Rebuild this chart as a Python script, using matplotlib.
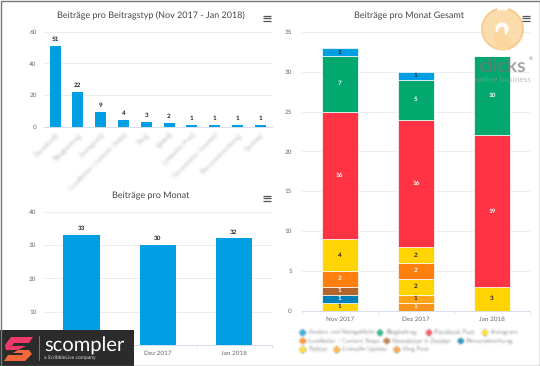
import numpy as np
from matplotlib import pyplot as plt
from matplotlib.patches import Circle, Polygon, Rectangle, Wedge

W, H = 540, 366

# Data
type_labels = ["Facebook", "Blogbeitrag", "Instagram", "Leadletter Content Steps", "Xing",
               "Video", "LinkedIn Post", "Newsletter Zweiter", "Personalwerbung", "Twitter"]
type_values = [51, 22, 9, 4, 3, 2, 1, 1, 1, 1]

months = ["Nov 2017", "Dez 2017", "Jan 2018"]
month_totals = [33, 30, 32]

series_names = ["Andere und Netzgeklickt", "Blogbeitrag", "Facebook Post", "Instagram",
                "Leadletter / Content Steps", "Newsletter in Zweiter", "Personalwerbung",
                "Twitter", "LinkedIn Update", "Xing Post"]
series_values = [
    [1, 1, 0],
    [7, 5, 10],
    [16, 16, 19],
    [4, 2, 3],
    [2, 2, 0],
    [1, 0, 0],
    [1, 0, 0],
    [1, 2, 0],
    [0, 1, 0],
    [0, 1, 0],
]
series_colors = ["#009fe3", "#03a86f", "#ff3344", "#ffd400", "#ff7f0e",
                 "#b5652c", "#0080b8", "#ffd400", "#ffa514", "#f9931a"]
label_colors = ["#222222", "white", "white", "#222222", "white",
                "white", "white", "#222222", "#222222", "white"]

plt.rcParams["font.family"] = ["Lato", "DejaVu Sans"]
plt.rcParams["text.hinting"] = "no_hinting"
BLUE = "#009fe3"
GRID = "#eeeeee"
AXIS = "#d5dceb"
TICK = "#666666"


def blur(sigma):
    # gaussian blur for the labels that are unreadable in the original
    r = int(3 * sigma) + 1
    k = np.exp(-np.arange(-r, r + 1) ** 2 / (2 * sigma ** 2))
    k = k / k.sum()

    def apply(img, dpi):
        out = np.pad(img, ((r, r), (r, r), (0, 0)))
        for ch in range(4):
            out[:, :, ch] = np.apply_along_axis(np.convolve, 0, out[:, :, ch], k, mode="same")
            out[:, :, ch] = np.apply_along_axis(np.convolve, 1, out[:, :, ch], k, mode="same")
        return out, -r, -r
    return apply


def make_axes(left, top, right, bottom):
    ax = fig.add_axes([left / W, 1 - bottom / H, (right - left) / W, (bottom - top) / H])
    ax.set_axisbelow(True)
    ax.grid(axis="y", color=GRID, linewidth=0.7)
    for s in ["top", "left", "right"]:
        ax.spines[s].set_visible(False)
    ax.spines["bottom"].set_color(AXIS)
    ax.spines["bottom"].set_linewidth(0.7)
    ax.tick_params(axis="y", length=0, labelsize=4.6, labelcolor=TICK, pad=5)
    ax.tick_params(axis="x", which="major", length=0, labelsize=4.6, labelcolor=TICK, pad=4)
    return ax


fig = plt.figure(figsize=(W / 100, H / 100), dpi=100, facecolor="white")

# Bars per type
ax1 = make_axes(43.7, 31.7, 271.7, 126.5)
x1 = np.arange(len(type_values))
ax1.bar(x1, type_values, width=0.485, color=BLUE)
ax1.set_xlim(-0.5, len(type_values) - 0.5)
ax1.set_ylim(0, 60)
ax1.set_yticks([0, 20, 40, 60])
ax1.set_xticks(x1)
ax1.set_xticklabels(type_labels, rotation=45, ha="right", va="top", rotation_mode="anchor",
                    color="#a0a0a0", fontsize=5)
for t in ax1.get_xticklabels():
    t.set_agg_filter(blur(1.5))
for i, v in zip(x1, type_values):
    ax1.text(i, v + 2.6, str(v), ha="center", va="bottom", fontsize=4.6, fontweight="bold", color="#222222")

# Bars per month
ax3 = make_axes(43.5, 211.7, 272, 345)
x3 = np.arange(len(months))
ax3.bar(x3, month_totals, width=0.475, color=BLUE)
ax3.set_xlim(-0.5, 2.5)
ax3.set_ylim(0, 40)
ax3.set_yticks([0, 10, 20, 30, 40])
ax3.set_xticks(x3)
ax3.set_xticklabels(months)
ax3.set_xticks([-0.5, 0.5, 1.5, 2.5], minor=True)
ax3.tick_params(axis="x", which="minor", length=2.5, color=AXIS, width=0.6)
# these two sit behind the scompler logo in the original
ax3.get_xticklabels()[0].set_visible(False)
ax3.get_yticklabels()[0].set_visible(False)
for i, v in zip(x3, month_totals):
    ax3.text(i, v + 1.1, str(v), ha="center", va="bottom", fontsize=4.6, fontweight="bold", color="#222222")

# Stacked bars, first series on top
ax2 = make_axes(301.7, 32, 530, 310.5)
x2 = np.arange(len(months))
bottom = np.zeros(len(months))
for vals, col, lab_col in list(zip(series_values, series_colors, label_colors))[::-1]:
    vals = np.array(vals)
    ax2.bar(x2, vals, width=0.475, bottom=bottom, color=col, edgecolor="white", linewidth=0.5)
    for i, v in enumerate(vals):
        if v > 0:
            ax2.text(i, bottom[i] + v / 2, str(v), ha="center", va="center",
                     fontsize=4.6, fontweight="bold", color=lab_col)
    bottom = bottom + vals
ax2.set_xlim(-0.5, 2.5)
ax2.set_ylim(0, 35)
ax2.set_yticks(np.arange(0, 36, 5))
ax2.tick_params(axis="y", pad=7)
ax2.set_xticks(x2)
ax2.set_xticklabels(months)
ax2.set_xticks([-0.5, 0.5, 1.5, 2.5], minor=True)
ax2.tick_params(axis="x", which="minor", length=2.5, color=AXIS, width=0.6)

# Overlay in pixel coordinates for titles, menu icons, legend and logos
ov = fig.add_axes([0, 0, 1, 1], zorder=10)
ov.set_xlim(0, W)
ov.set_ylim(H, 0)
ov.axis("off")
ov.patch.set_alpha(0)

titles = [("Beiträge pro Beitragstyp (Nov 2017 - Jan 2018)", 151, 16),
          ("Beiträge pro Monat Gesamt", 409, 16),
          ("Beiträge pro Monat", 151, 196)]
for s, tx, ty in titles:
    ov.text(tx, ty, s, ha="center", va="center", fontsize=6.5, color="#444444")

for mx, my in [(263, 16), (522, 16), (263, 196)]:
    for dy in [0, 2.3, 4.6]:
        ov.plot([mx, mx + 7.5], [my + dy, my + dy], color="#555555", lw=0.9, solid_capstyle="butt")

# Legend, blurred as in the original
legend_pos = [(302.7, 332.7), (380, 332.7), (429, 332.7), (485, 332.7),
              (302.7, 341), (386.7, 341), (460.7, 341),
              (302.7, 349.7), (336.7, 349.7), (396.7, 349.7)]
for (lx, ly), name, col in zip(legend_pos, series_names, series_colors):
    dot = Circle((lx, ly), 3.2, color=col, alpha=0.8, lw=0)
    dot.set_agg_filter(blur(0.9))
    ov.add_patch(dot)
    t = ov.text(lx + 6, ly, name, ha="left", va="center", fontsize=4.3, color="#777777")
    t.set_agg_filter(blur(1.1))

# clicks logo
ov.add_patch(Wedge((502.5, 29), 21.5, -75, 255, width=2.6, color="#f8c883", alpha=0.9, lw=0))
ov.add_patch(Circle((502.5, 29), 18.9, color="#fbd79f", alpha=0.85, lw=0))
ov.add_patch(Circle((502, 29), 6.5, color="white", alpha=0.95, lw=0))
ov.add_patch(Polygon([[500, 27], [504, 27], [505, 35], [511, 38], [510, 50], [498, 50], [494, 38]],
                     closed=True, color="#fbd79f", lw=0))
ov.text(502, 66, "clicks", ha="center", va="center", fontsize=14, fontweight="bold", color="#777777", alpha=0.65)
ov.text(531, 59, "®", ha="center", va="center", fontsize=3.5, color="#8c8c8c")
ov.text(503, 80, "online business", ha="center", va="center", fontsize=6, color="#999999", alpha=0.6)

# scompler logo
ov.add_patch(Rectangle((0, 330), 134, 36, color="#2b2b2b", lw=0))
ov.add_patch(Polygon([[11, 337], [33, 337], [29, 343], [14, 343], [12, 346], [26, 346], [18, 350], [6, 350], [5, 345]],
                     closed=True, color="#ee3a68", lw=0))
ov.add_patch(Polygon([[18, 350], [29, 350], [32, 354], [25, 361], [4, 361], [8, 355], [22, 355], [23, 353], [13, 353]],
                     closed=True, color="#f3683c", lw=0))
ov.plot([38.5, 38.5], [336, 360], color="#999999", lw=0.5)
ov.text(44, 346, "scompler", ha="left", va="center", fontsize=14.5, color="white")
ov.text(44, 358, "a ScribbleLive company", ha="left", va="center", fontsize=3.6, color="#dddddd")

# Outer frame
ov.add_patch(Rectangle((0.5, 0.5), W - 1, H - 1, fill=False, edgecolor="#777777", lw=1))

fig.savefig("out.png", dpi=100)
